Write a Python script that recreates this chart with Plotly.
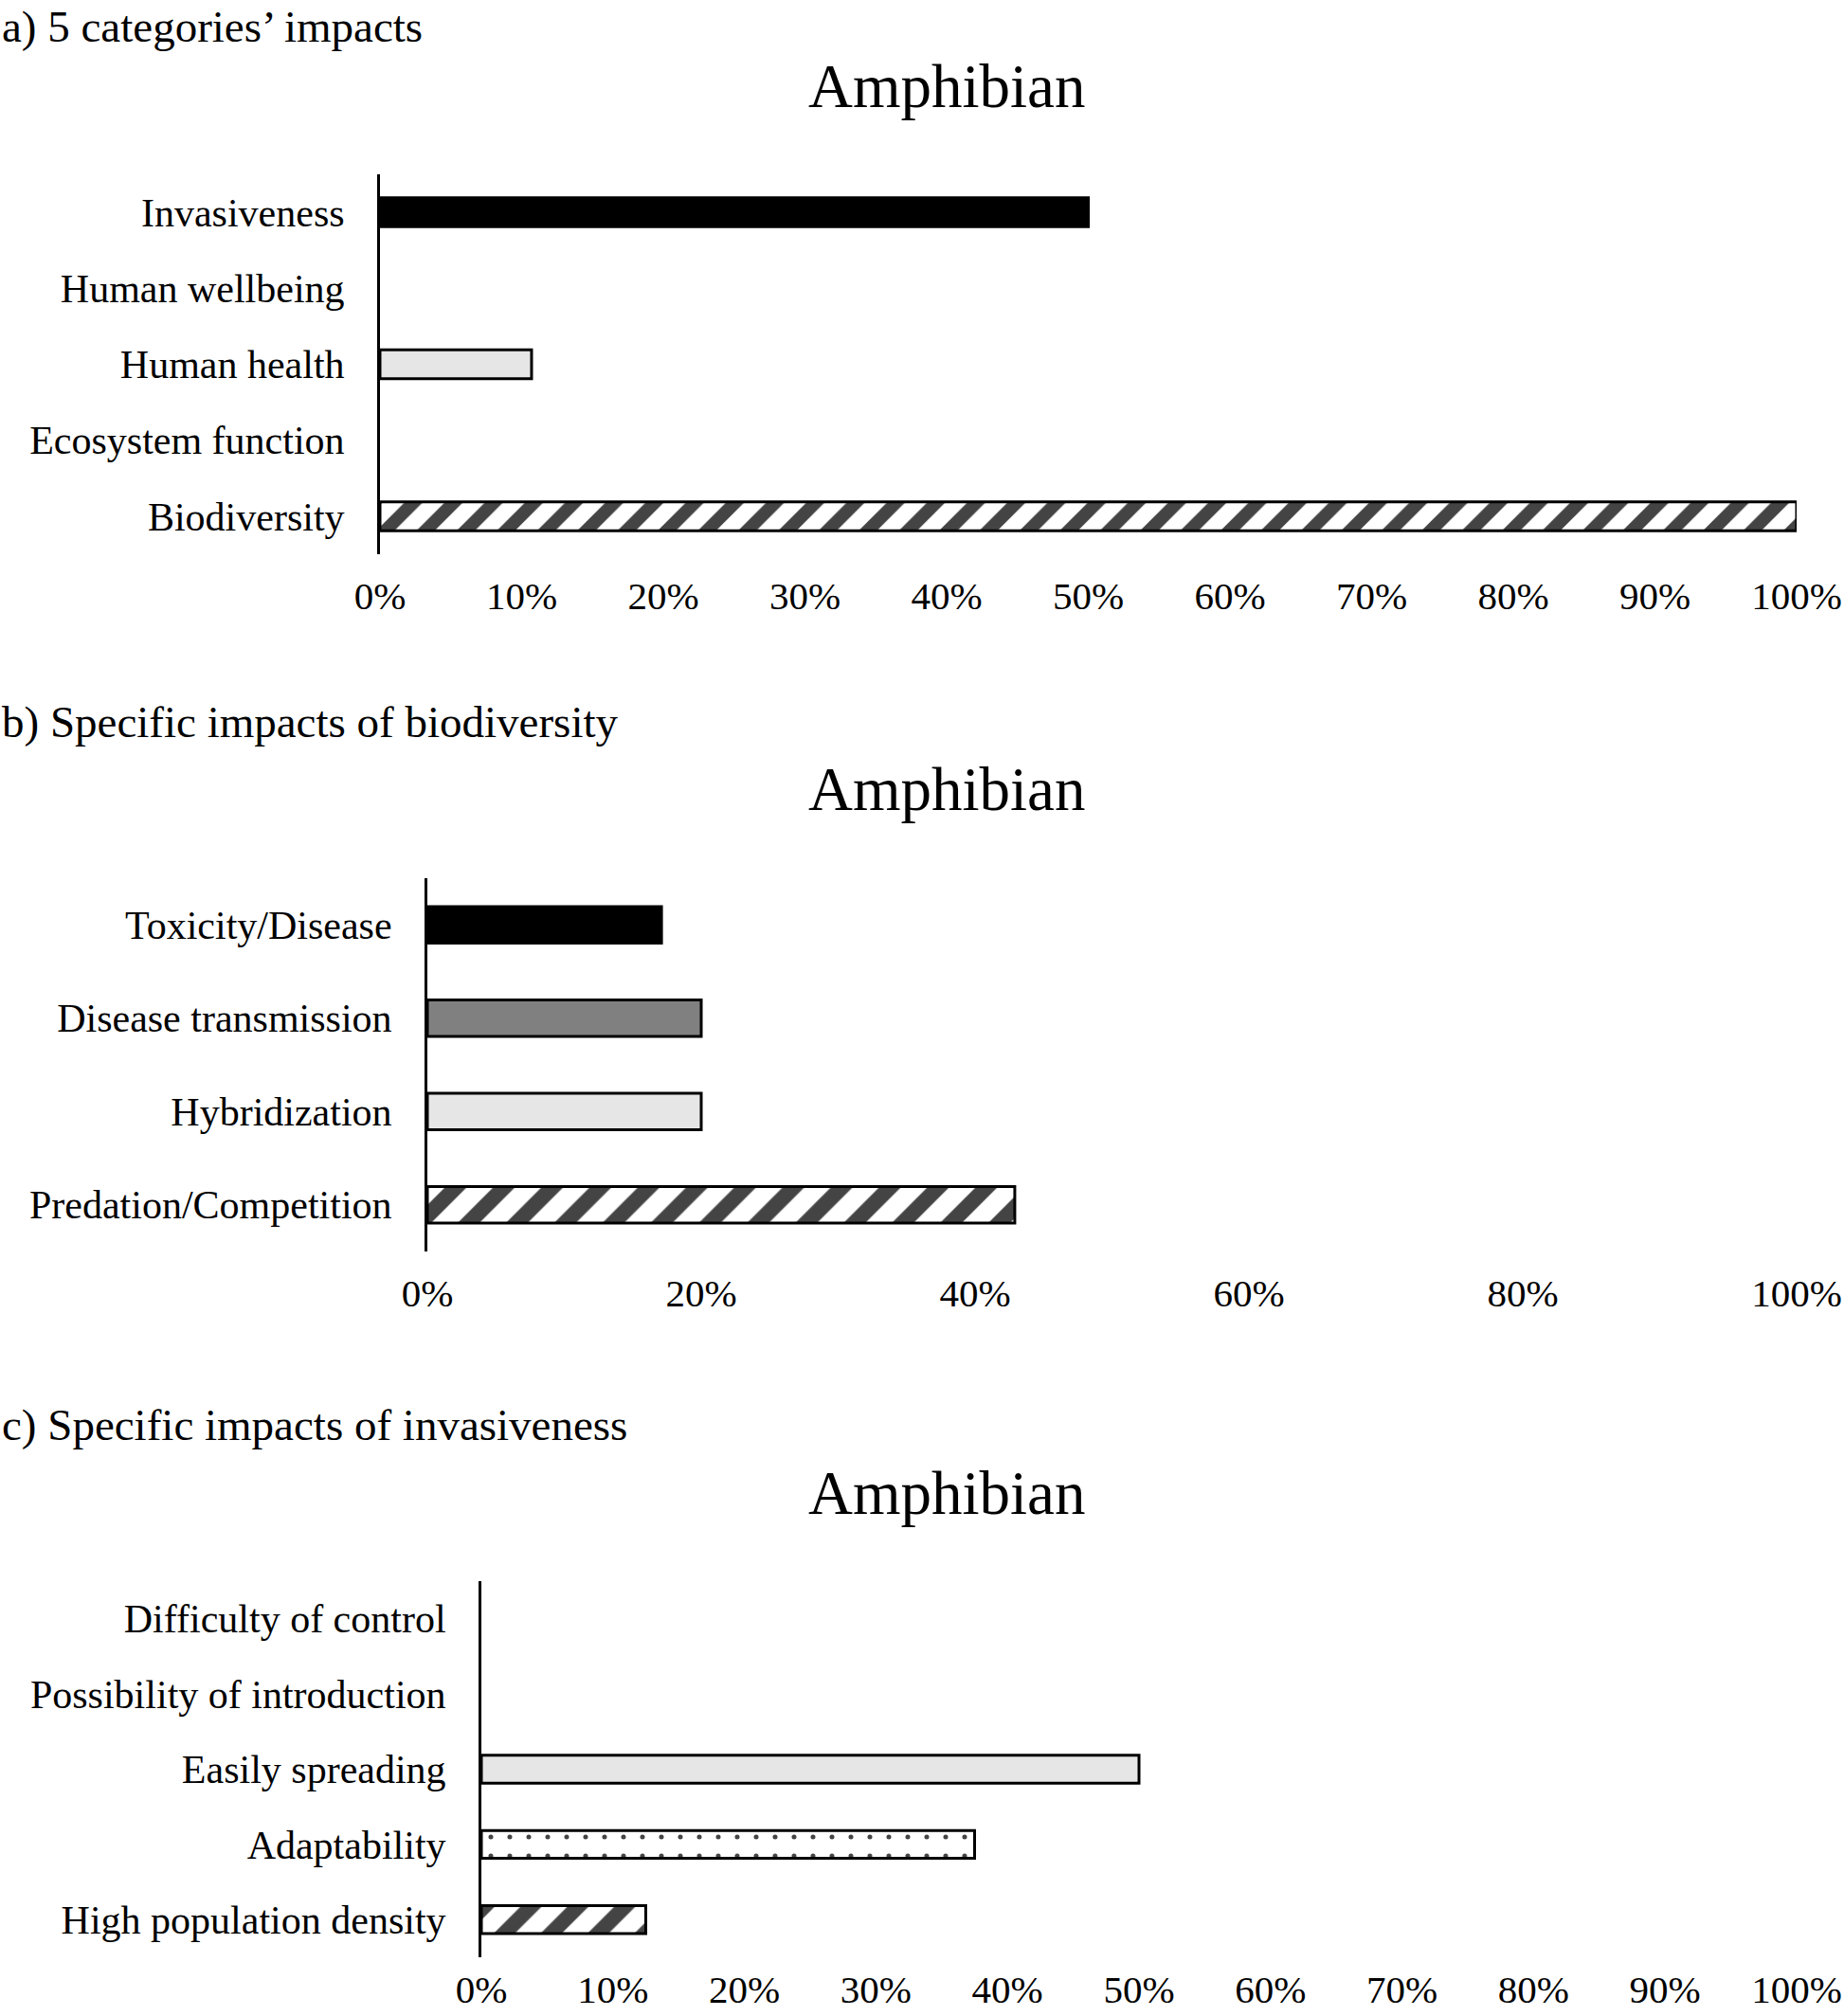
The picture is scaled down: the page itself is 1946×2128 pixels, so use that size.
import plotly.graph_objects as go

FONT = "Liberation Serif"

# ---- data (top-to-bottom order as displayed) ----
cats_a = ["Invasiveness", "Human wellbeing", "Human health", "Ecosystem function", "Biodiversity"]
vals_a = [50, 0, 10.7, 0, 100]

cats_b = ["Toxicity/Disease", "Disease transmission", "Hybridization", "Predation/Competition"]
vals_b = [17.1, 20.0, 20.0, 42.9]

cats_c = ["Difficulty of control", "Possibility of introduction", "Easily spreading",
          "Adaptability", "High population density"]
vals_c = [0, 0, 50, 37.5, 12.5]

ticks_a = list(range(0, 101, 10))
ticks_b = list(range(0, 101, 20))
ticks_c = list(range(0, 101, 10))

headers = ["a) 5 categories\u2019 impacts", "b) Specific impacts of biodiversity",
           "c) Specific impacts of invasiveness"]
panel_title = "Amphibian"

# ---- styles ----
BLACK, GREY, LIGHT, WHITE = "#000000", "#808080", "#e6e6e6", "#ffffff"
style_a = dict(color=[BLACK, WHITE, LIGHT, WHITE, WHITE], shape=["", "", "", "", "/"])
style_b = dict(color=[BLACK, GREY, LIGHT, WHITE], shape=["", "", "", "/"])
style_c = dict(color=[WHITE, WHITE, LIGHT, WHITE, WHITE], shape=["", "", "", ".", "/"])

W, H = 1946, 2128


def px_x(v):
    return v / W


def px_y(v):
    return 1 - v / H


panels = [
    # cats, vals, ticks, style, x0px, x1px, ytop, ybot, stripe size, bar width, header y, title y, x-label standoff
    (cats_a, vals_a, ticks_a, style_a, 401, 1896, 184, 585, 30, 0.38, 0, 91, 16),
    (cats_b, vals_b, ticks_b, style_b, 451, 1896, 927, 1321, 36, 0.39, 762, 833, 16),
    (cats_c, vals_c, ticks_c, style_c, 508, 1896, 1669, 2066, 35, 0.37, 1504, 1576, 6),
]

fig = go.Figure()
annotations = []
layout = {}
for i, (cats, vals, ticks, st, x0, x1, yt, yb, ssize, bw, hy, ty, xso) in enumerate(panels, start=1):
    sfx = "" if i == 1 else str(i)
    sizes = [ssize if s == "/" else (20 if s == "." else 10) for s in st["shape"]]
    sol = [0.45 if s == "/" else (0.05 if s == "." else 0.3) for s in st["shape"]]
    lw = [3 if v > 0 else 0 for v in vals]
    fig.add_trace(go.Bar(
        x=vals, y=cats, orientation="h",
        xaxis="x" + sfx, yaxis="y" + sfx, width=bw,
        marker=dict(
            color=st["color"],
            line=dict(color=BLACK, width=lw),
            pattern=dict(shape=st["shape"], fgcolor=BLACK, fgopacity=1, fillmode="overlay",
                         size=sizes, solidity=sol),
        ),
        showlegend=False, hoverinfo="skip",
    ))
    layout["xaxis" + sfx] = dict(
        domain=[px_x(x0), px_x(x1)], anchor="y" + sfx, range=[-0.0001, 100.0001],
        tickvals=ticks, ticktext=[f"{t}%" for t in ticks],
        showgrid=False, zeroline=False, showline=False, ticks="",
        ticklabelstandoff=xso, automargin=False,
        tickfont=dict(family=FONT, size=41, color=BLACK),
    )
    layout["yaxis" + sfx] = dict(
        domain=[px_y(yb), px_y(yt)], anchor="x" + sfx,
        categoryorder="array", categoryarray=cats, autorange="reversed",
        showgrid=False, zeroline=False, showline=True, linecolor=BLACK, linewidth=3,
        ticks="", ticklabelstandoff=26, automargin=False,
        tickfont=dict(family=FONT, size=42, color=BLACK),
    )
    if hy == 0:
        annotations.append(dict(text=headers[i - 1], x=0, y=1, xref="paper", yref="paper",
                                xanchor="left", yanchor="top", showarrow=False,
                                font=dict(family=FONT, size=47, color=BLACK)))
    else:
        annotations.append(dict(text=headers[i - 1], x=0, y=px_y(hy), xref="paper", yref="paper",
                                xanchor="left", yanchor="middle", showarrow=False,
                                font=dict(family=FONT, size=47, color=BLACK)))
    annotations.append(dict(text=panel_title, x=px_x(999), y=px_y(ty), xref="paper", yref="paper",
                            xanchor="center", yanchor="middle", showarrow=False,
                            font=dict(family=FONT, size=65, color=BLACK)))

fig.update_layout(
    width=W, height=H,
    margin=dict(l=0, r=0, t=0, b=0),
    paper_bgcolor="white", plot_bgcolor="white",
    annotations=annotations,
    **layout,
)

fig.write_html("out.html", config={"displayModeBar": False},
               post_script="document.body.style.margin='0';document.body.style.overflow='hidden';")
